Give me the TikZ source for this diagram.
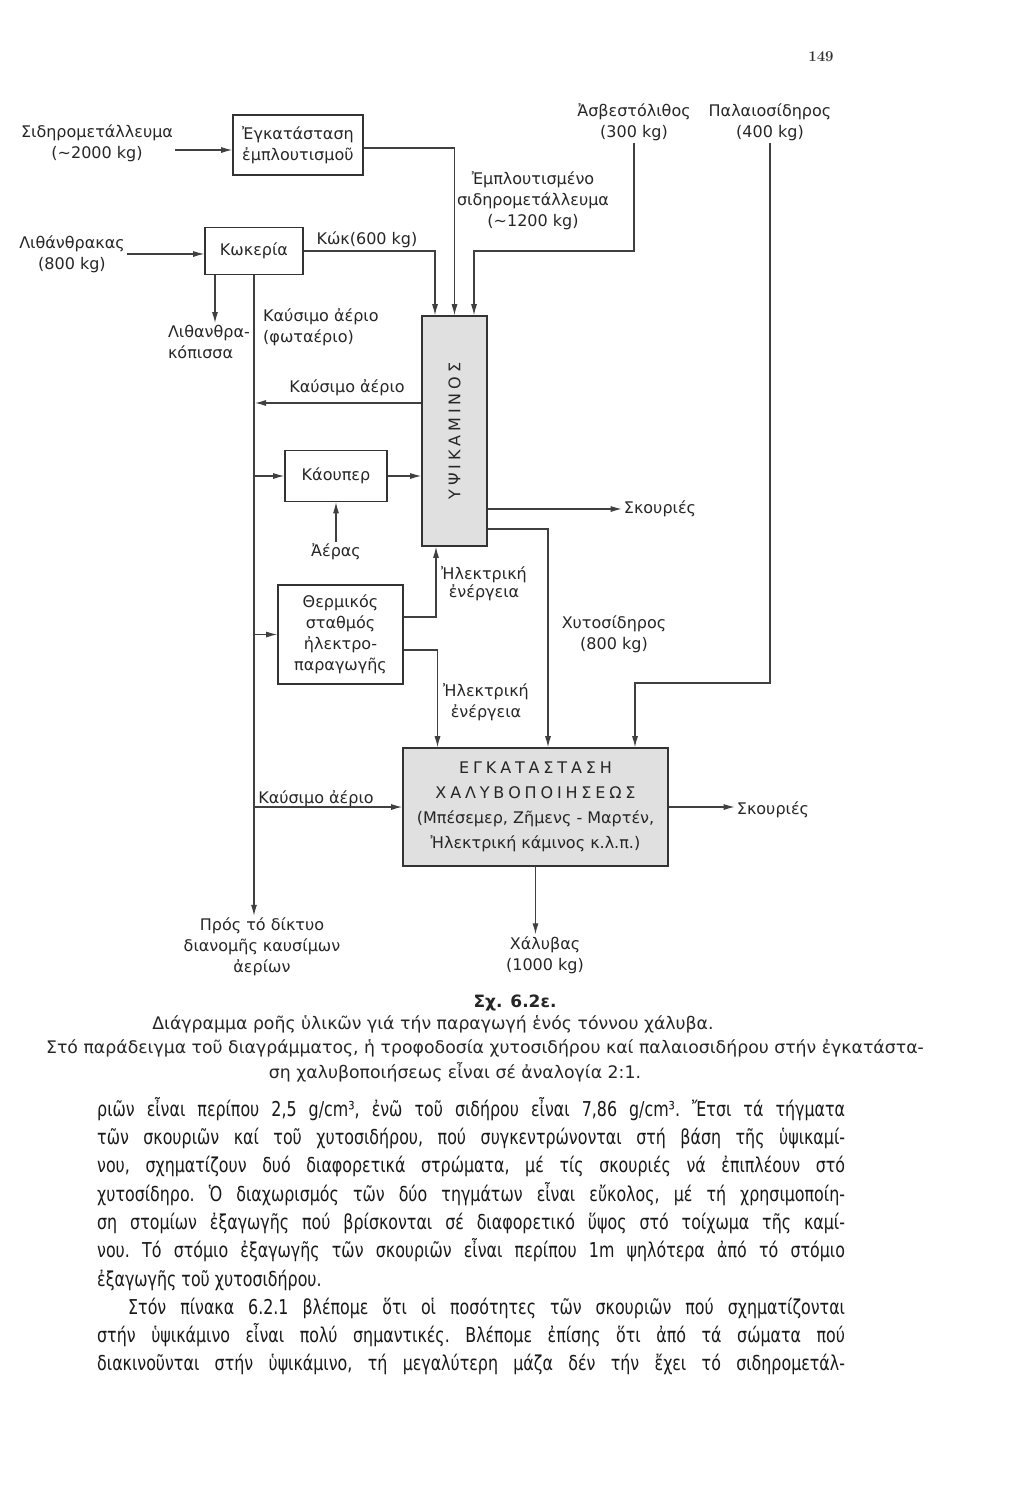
\documentclass[tikz,border=0pt]{standalone}
\usepackage{fontspec}
\usetikzlibrary{arrows.meta,positioning}
\newfontfamily\diafont{DejaVu Sans}
\newfontfamily\bodyfont[FakeStretch=0.86]{DejaVu Sans Condensed}
\newfontfamily\capfont{DejaVu Sans}
\newcommand{\spaced}[1]{{\addfontfeature{LetterSpace=24}#1}}

\tikzset{
  lab/.style={inner sep=2pt, align=center, text=black!85,
    font=\diafont\fontsize{16}{21}\selectfont},
  box/.style={draw=black!80, line width=1.6pt},
  furnace/.style={box, fill=black!12},
  arr/.style={draw=black!75, line width=1.1pt, -{Latex[length=11pt,width=6pt]}},
  captext/.style={inner sep=0pt, text=black!85, font=\capfont\fontsize{17.3}{20}\selectfont}
}

\begin{document}
\begin{tikzpicture}[x=1pt,y=-1pt]
\useasboundingbox (0,0) rectangle (1010,1500);
\node[font=\bfseries\fontsize{15}{18}\selectfont, text=black!80] (pnum) at (821,57) {149};

% boxes
\node[lab, box, minimum width=130pt, minimum height=60pt, align=left] (enr) at (298,145) {Ἐγκατάσταση\\ἐμπλουτισμοῦ};
\node[lab, box, minimum width=98pt, minimum height=47pt] (coke) at (254,251) {Κωκερία};
\node[lab, furnace, minimum width=65pt, minimum height=230pt] (bf) at (454.5,431) {};
\node[lab, rotate=90] (bftext) at (bf.center) {\spaced{ΥΨΙΚΑΜΙΝΟΣ}};
\node[lab, box, minimum width=102pt, minimum height=51pt] (cowper) at (336,476) {Κάουπερ};
\node[lab, box, minimum width=125pt, minimum height=99pt] (power) at (340.5,634.5) {Θερμικός\\σταθμός\\ἠλεκτρο-\\παραγωγῆς};
\node[lab, furnace, minimum width=265pt, minimum height=118pt, font=\diafont\fontsize{16}{25}\selectfont] (steel) at (535.5,807)
  {\spaced{ΕΓΚΑΤΑΣΤΑΣΗ}\\\spaced{ΧΑΛΥΒΟΠΟΙΗΣΕΩΣ}\\(Μπέσεμερ, Ζῆμενς - Μαρτέν,\\Ἠλεκτρική κάμινος κ.λ.π.)};

% labels
\node[lab] (ore) at (97,143) {Σιδηρομετάλλευμα\\(\textasciitilde 2000 kg)};
\node[lab] (coal) at (72,254) {Λιθάνθρακας\\(800 kg)};
\node[lab] (cokelab) at (367,240) {Κώκ(600 kg)};
\node[lab] (lime) at (634,122) {Ἀσβεστόλιθος\\(300 kg)};
\node[lab] (scrap) at (770,122) {Παλαιοσίδηρος\\(400 kg)};
\node[lab] (enrlab) at (533,201) {Ἐμπλουτισμένο\\σιδηρομετάλλευμα\\(\textasciitilde 1200 kg)};
\node[lab, align=left] (tar) at (209,342) {Λιθανθρα-\\κόπισσα};
\node[lab, align=left, anchor=west] (gas1) at (261,327) {Καύσιμο ἀέριο\\(φωταέριο)};
\node[lab] (gas2) at (347,388) {Καύσιμο ἀέριο};
\node[lab] (slag1) at (660,509) {Σκουριές};
\node[lab] (air) at (336,552) {Ἀέρας};
\node[lab, font=\diafont\fontsize{16}{18}\selectfont] (el1) at (484,584) {Ἠλεκτρική\\ἐνέργεια};
\node[lab] (pig) at (614,634) {Χυτοσίδηρος\\(800 kg)};
\node[lab] (el2) at (486,702) {Ἠλεκτρική\\ἐνέργεια};
\node[lab] (gas3) at (316,799) {Καύσιμο ἀέριο};
\node[lab] (slag2) at (773,810) {Σκουριές};
\node[lab] (dist) at (262,947) {Πρός τό δίκτυο\\διανομῆς καυσίμων\\ἀερίων};
\node[lab] (steelout) at (545,955) {Χάλυβας\\(1000 kg)};

\coordinate (limebend) at (lime.south |- 0,251);
\coordinate (scrapbend) at (scrap.south |- 0,683);

% flows
\draw[arr] (ore.east |- 0,150) -- (enr.west |- 0,150);
\draw[arr] (coal.east) -- (coal.east -| coke.west);
\draw[arr] (enr.east |- 0,148) -| (bf.north);
\draw[arr] (coke.east) -| ([xshift=-19.5pt]bf.north);
\draw[arr] (lime.south) -- (limebend) -| ([xshift=19.5pt]bf.north);
\draw[arr] (scrap.south) -- (scrapbend) -| ([xshift=99.5pt]steel.north);
\draw[arr] ([xshift=-39pt]coke.south) -- ([xshift=-39pt]coke.south |- tar.north);
\draw[arr] (coke.south) -- (coke.south |- dist.north);
\draw[arr, shorten >=1pt] (bf.west |- 0,403) -- (coke.south |- 0,403);
\draw[arr] (coke.south |- cowper.west) -- (cowper.west);
\draw[arr] (cowper.east) -- (cowper.east -| bf.west);
\draw[arr] (air.north) -- (cowper.south);
\draw[arr] (coke.south |- power.west) -- (power.west);
\draw[arr] (power.east |- 0,617) -| ([xshift=-18.5pt]bf.south);
\draw[arr] (power.east |- 0,650) -| ([xshift=-98pt]steel.north);
\draw[arr] (bf.east |- slag1.west) -- (slag1.west);
\draw[arr] (bf.east |- 0,529) -| ([xshift=12.5pt]steel.north);
\draw[arr] (coke.south |- steel.west) -- (steel.west);
\draw[arr] (steel.east) -- (steel.east -| slag2.west);
\draw[arr] (steel.south) -- (steel.south |- steelout.north);

% caption
\node[captext, font=\capfont\bfseries\fontsize{17}{20}\selectfont] (fignum) at (515,1003) {Σχ. 6.2ε.};
\node[captext] (cap1) at (433,1024) {Διάγραμμα ροῆς ὑλικῶν γιά τήν παραγωγή ἑνός τόννου χάλυβα.};
\node[captext] (cap2) at (485,1048) {Στό παράδειγμα τοῦ διαγράμματος, ἡ τροφοδοσία χυτοσιδήρου καί παλαιοσιδήρου στήν ἐγκατάστα-};
\node[captext] (cap3) at (455,1072) {ση χαλυβοποιήσεως εἶναι σέ ἀναλογία 2:1.};

% text
\node[anchor=north west, inner sep=0pt, text width=748pt, align=justify, text=black!90,
  font=\bodyfont\fontsize{20.5}{28.3}\selectfont\frenchspacing] (body) at (97,1097)
  {ριῶν εἶναι περίπου 2,5 g/cm³, ἐνῶ τοῦ σιδήρου εἶναι 7,86 g/cm³. Ἔτσι τά τήγματα\linebreak
  τῶν σκουριῶν καί τοῦ χυτοσιδήρου, πού συγκεντρώνονται στή βάση τῆς ὑψικαμί-\linebreak
  νου, σχηματίζουν δυό διαφορετικά στρώματα, μέ τίς σκουριές νά ἐπιπλέουν στό\linebreak
  χυτοσίδηρο. Ὁ διαχωρισμός τῶν δύο τηγμάτων εἶναι εὔκολος, μέ τή χρησιμοποίη-\linebreak
  ση στομίων ἐξαγωγῆς πού βρίσκονται σέ διαφορετικό ὕψος στό τοίχωμα τῆς καμί-\linebreak
  νου. Τό στόμιο ἐξαγωγῆς τῶν σκουριῶν εἶναι περίπου 1m ψηλότερα ἀπό τό στόμιο\linebreak
  ἐξαγωγῆς τοῦ χυτοσιδήρου.\par
  \hspace*{31pt}Στόν πίνακα 6.2.1 βλέπομε ὅτι οἱ ποσότητες τῶν σκουριῶν πού σχηματίζονται\linebreak
  στήν ὑψικάμινο εἶναι πολύ σημαντικές. Βλέπομε ἐπίσης ὅτι ἀπό τά σώματα πού\linebreak
  διακινοῦνται στήν ὑψικάμινο, τή μεγαλύτερη μάζα δέν τήν ἔχει τό σιδηρομετάλ-{\parfillskip=0pt\par}};
\end{tikzpicture}
\end{document}
